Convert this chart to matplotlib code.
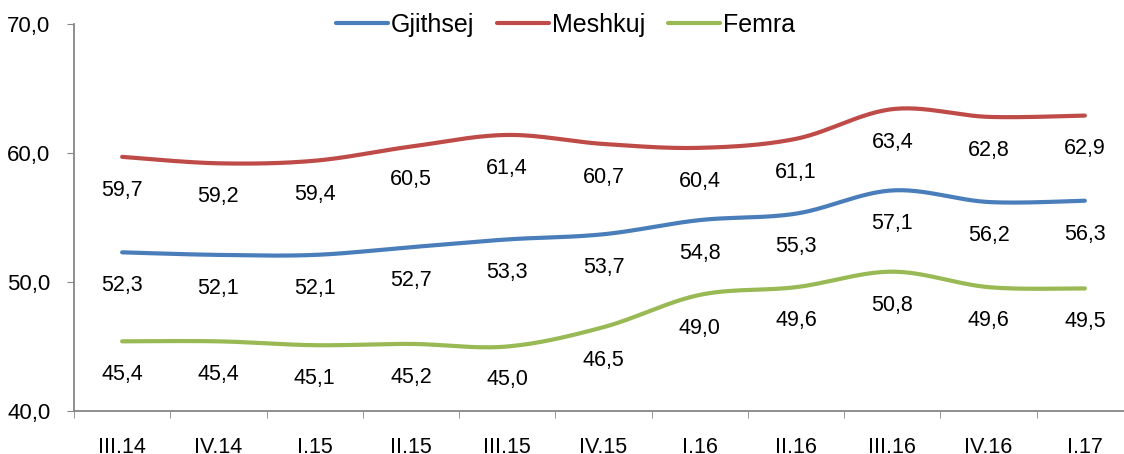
# Papunesia / aktiviteti sipas gjinise - smoothed line chart
import numpy as np
import matplotlib.pyplot as plt

plt.rcParams['font.family'] = ['Liberation Sans', 'DejaVu Sans']

periods = ["III.14", "IV.14", "I.15", "II.15", "III.15", "IV.15",
           "I.16", "II.16", "III.16", "IV.16", "I.17"]
gjithsej = [52.3, 52.1, 52.1, 52.7, 53.3, 53.7, 54.8, 55.3, 57.1, 56.2, 56.3]
meshkuj = [59.7, 59.2, 59.4, 60.5, 61.4, 60.7, 60.4, 61.1, 63.4, 62.8, 62.9]
femra = [45.4, 45.4, 45.1, 45.2, 45.0, 46.5, 49.0, 49.6, 50.8, 49.6, 49.5]

colors = {"Gjithsej": "#4A7EBB", "Meshkuj": "#BE4B48", "Femra": "#98B954"}


def smooth(x, y, n=30):
    # bezier curve through points, like excel "smoothed line"
    x = np.asarray(x, float)
    y = np.asarray(y, float)
    px = np.concatenate([[x[0]], x, [x[-1]]])
    py = np.concatenate([[y[0]], y, [y[-1]]])
    xs, ys = [], []
    t = np.linspace(0, 1, n)
    for i in range(1, len(px) - 2):
        p0 = np.array([px[i], py[i]])
        p3 = np.array([px[i + 1], py[i + 1]])
        c1 = p0 + (np.array([px[i + 1], py[i + 1]]) - np.array([px[i - 1], py[i - 1]])) / 6
        c2 = p3 - (np.array([px[i + 2], py[i + 2]]) - np.array([px[i], py[i]])) / 6
        b = ((1 - t) ** 3)[:, None] * p0 + (3 * (1 - t) ** 2 * t)[:, None] * c1 \
            + (3 * (1 - t) * t ** 2)[:, None] * c2 + (t ** 3)[:, None] * p3
        xs.extend(b[:, 0])
        ys.extend(b[:, 1])
    return xs, ys


fig = plt.figure(figsize=(11.24, 4.54), dpi=100)
ax = fig.add_axes([74 / 1124, 1 - 411 / 454, (1133 - 74) / 1124, 387 / 454])

x = np.arange(len(periods))
for name, vals in [("Gjithsej", gjithsej), ("Meshkuj", meshkuj), ("Femra", femra)]:
    sx, sy = smooth(x, vals)
    ax.plot(sx, sy, color=colors[name], lw=3, solid_capstyle='round', label=name)
    for xi, v in zip(x, vals):
        ax.annotate(("%.1f" % v).replace(".", ","), (xi, v), xytext=(0, -24),
                    textcoords='offset points', ha='center', va='center', fontsize=15.5)

ax.set_xlim(-0.5, len(periods) - 0.5)
ax.set_ylim(40, 70)
ax.set_yticks([40, 50, 60, 70])
ax.set_yticklabels(["40,0", "50,0", "60,0", "70,0"])
ax.set_xticks(x)
ax.set_xticklabels(periods)
ax.set_xticks(np.arange(-0.5, len(periods) + 0.5, 1), minor=True)
ax.tick_params(axis='x', which='major', length=0, pad=19, labelsize=15.5)
ax.tick_params(axis='x', which='minor', length=5, color="#868686", direction='out')
ax.tick_params(axis='y', length=5, color="#868686", labelsize=16, pad=12)

for s in ['top', 'right']:
    ax.spines[s].set_visible(False)
for s in ['left', 'bottom']:
    ax.spines[s].set_color("#868686")
    ax.spines[s].set_linewidth(1.3)

fig.legend(loc='center', bbox_to_anchor=(0.503, 1 - 25 / 454), ncol=3, frameon=False,
           fontsize=18, handlelength=2.1, handletextpad=0.1, columnspacing=0.9)

plt.savefig("out.png")
